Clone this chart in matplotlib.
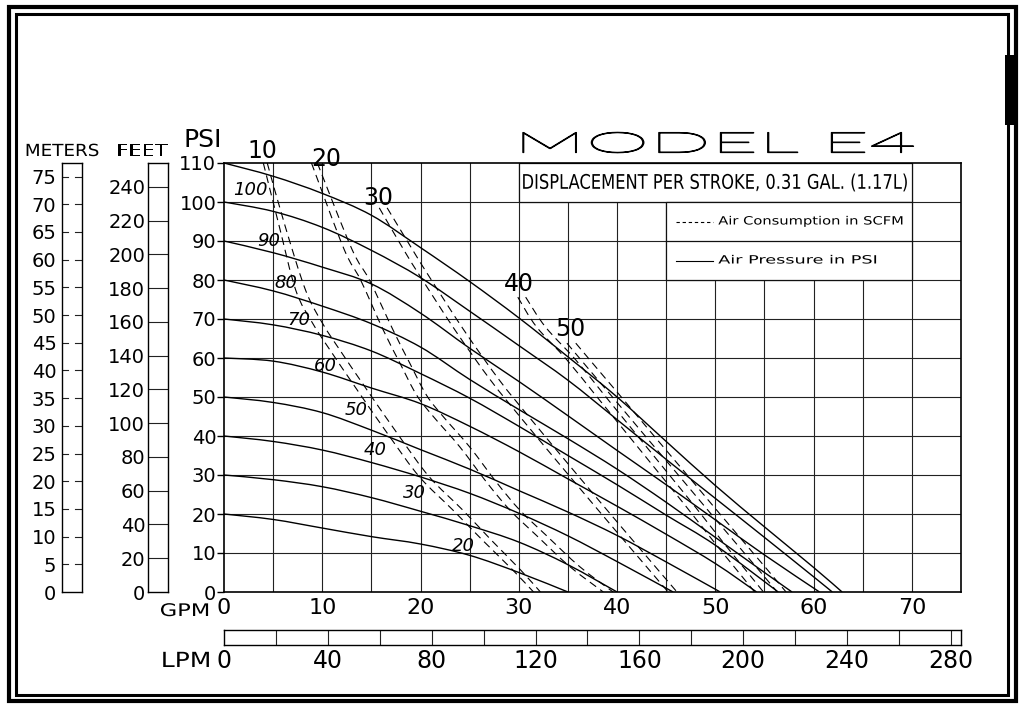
import numpy as np
import matplotlib
matplotlib.use("Agg")
import matplotlib.pyplot as plt
import matplotlib.patheffects as pe
from matplotlib.patches import Rectangle, PathPatch
from matplotlib.path import Path
from matplotlib.transforms import Affine2D

# ---------------- data ----------------
psi_ticks = list(range(0, 111, 10))
gpm_ticks = list(range(0, 71, 10))
lpm_ticks = list(range(0, 281, 40))
meter_ticks = list(range(0, 76, 5))
feet_ticks = list(range(0, 241, 20))

# Air pressure curves (discharge PSI vs GPM)
p110_gpm = [0, 5, 10, 15, 20, 25, 30, 35, 40, 45, 50, 55, 60, 62.9]
p110_psi = [110, 106.6, 102.2, 96.6, 88.3, 79.6, 70.3, 60.3, 50, 38.6, 27.3, 16.7, 6.3, 0]
p100_gpm = [0, 5, 10, 15, 20, 25, 30, 35, 40, 45, 50, 55, 60, 61.9]
p100_psi = [100, 97.6, 93.5, 87.6, 80.6, 72, 63.2, 54.3, 44.2, 34, 24, 14, 3.9, 0]
p90_gpm = [0, 5, 10, 15, 20, 25, 30, 35, 40, 45, 50, 55, 60.6]
p90_psi = [90, 87, 83.3, 79, 71.5, 62.5, 54, 45.2, 36.3, 27.5, 18.5, 9.5, 0]
p80_gpm = [0, 5, 10, 15, 20, 25, 30, 35, 40, 45, 50, 55, 57.8]
p80_psi = [80, 77.2, 73.3, 68.8, 62.8, 54.5, 46.8, 39.3, 31.5, 23, 14, 5, 0]
p70_gpm = [0, 5, 10, 15, 20, 25, 30, 35, 40, 45, 50, 56.4]
p70_psi = [70, 68.5, 65.8, 61.8, 56, 49.7, 42.5, 35, 27.5, 19.7, 12, 0]
p60_gpm = [0, 5, 10, 15, 20, 25, 30, 35, 40, 45, 50, 54.2]
p60_psi = [60, 59.2, 56.4, 52.3, 48.3, 42.5, 36, 29, 22, 14.8, 7.3, 0]
p50_gpm = [0, 5, 10, 15, 20, 25, 30, 35, 40, 45, 50.5]
p50_psi = [50, 48.6, 46, 41.5, 36.5, 31.5, 26, 20.5, 14.5, 7.7, 0]
p40_gpm = [0, 5, 10, 15, 20, 25, 30, 35, 40, 45.7]
p40_psi = [40, 38.6, 36.4, 33.2, 29.5, 25.3, 20.2, 14.4, 7.8, 0]
p30_gpm = [0, 5, 10, 15, 20, 25, 30, 35, 40]
p30_psi = [30, 28.8, 27, 24.2, 20.7, 17, 12.8, 7, 0]
p20_gpm = [0, 5, 10, 15, 20, 25, 30, 35]
p20_psi = [20, 18.6, 16.4, 14.2, 12.3, 9.4, 5, 0]

pressure_curves = [(p110_gpm, p110_psi), (p100_gpm, p100_psi), (p90_gpm, p90_psi),
                   (p80_gpm, p80_psi), (p70_gpm, p70_psi), (p60_gpm, p60_psi),
                   (p50_gpm, p50_psi), (p40_gpm, p40_psi), (p30_gpm, p30_psi),
                   (p20_gpm, p20_psi)]

pressure_label_text = ["100", "90", "80", "70", "60", "50", "40", "30", "20"]
pressure_label_gpm = [2.7, 4.5, 6.3, 7.6, 10.3, 13.4, 15.4, 19.4, 24.4]
pressure_label_psi = [103.0, 90.0, 79.2, 69.7, 58.0, 46.6, 36.4, 25.5, 11.8]

# Air consumption curves (SCFM); each one appears as a doubled dashed line
s10a_gpm = [4.0, 5.6, 7.3, 9.0, 10.8, 13.5, 16.9, 19.9, 23.3, 26.3, 29.4, 31.5]
s10a_psi = [110, 94, 77.4, 69, 62, 52, 39.7, 29.5, 21, 13.3, 5.6, 0]
s10b_gpm = [4.4, 6.2, 8.3, 10.0, 11.8, 14.5, 17.9, 20.9, 24.3, 27.2, 30.2, 32.2]
s10b_psi = [110, 94, 77.4, 69, 62, 52, 39.7, 29.5, 21, 13.3, 5.6, 0]
s20a_gpm = [8.9, 12.2, 13.9, 16.2, 17.9, 19.6, 21.3, 24.0, 26.8, 29.1, 31.8, 35.2, 38.6]
s20a_psi = [110, 88, 80, 67.2, 58.7, 50.5, 45.0, 37.2, 27.9, 21, 14.5, 6.5, 0]
s20b_gpm = [9.5, 13.0, 14.8, 17.2, 18.9, 20.6, 22.3, 25.0, 27.8, 30.1, 32.8, 36.2, 39.6]
s20b_psi = [110, 88, 80, 67.2, 58.7, 50.5, 45.0, 37.2, 27.9, 21, 14.5, 6.5, 0]
s30a_gpm = [15.8, 18.3, 20.0, 23.5, 27.1, 30.4, 34.9, 39.8, 45.2]
s30a_psi = [98.5, 87.7, 80.8, 67.2, 54.4, 44.1, 30.5, 15.9, 0]
s30b_gpm = [16.6, 19.2, 20.9, 24.4, 28.0, 31.3, 35.8, 40.7, 46.1]
s30b_psi = [98.5, 87.7, 80.8, 67.2, 54.4, 44.1, 30.5, 15.9, 0]
s40a_gpm = [29.9, 31.8, 34.9, 37.9, 41.0, 44.0, 47.0, 50.0, 52.0, 54.0]
s40a_psi = [75.6, 68, 59.5, 50.2, 40.6, 31.3, 22, 12.4, 6.2, 0]
s40b_gpm = [30.7, 32.7, 35.8, 38.8, 41.9, 44.9, 47.9, 50.9, 52.9, 54.9]
s40b_psi = [75.6, 68, 59.5, 50.2, 40.6, 31.3, 22, 12.4, 6.2, 0]
s50a_gpm = [34.9, 37.0, 40.0, 43.0, 46.0, 49.0, 52.0, 54.5, 56.3]
s50a_psi = [63.8, 57.5, 48.6, 39.6, 30.7, 21.7, 12.8, 5.4, 0]
s50b_gpm = [35.8, 37.9, 40.9, 43.9, 46.9, 49.9, 52.9, 55.4, 57.2]
s50b_psi = [63.8, 57.5, 48.6, 39.6, 30.7, 21.7, 12.8, 5.4, 0]

scfm_curves = [(s10a_gpm, s10a_psi), (s10b_gpm, s10b_psi), (s20a_gpm, s20a_psi),
               (s20b_gpm, s20b_psi), (s30a_gpm, s30a_psi), (s30b_gpm, s30b_psi),
               (s40a_gpm, s40a_psi), (s40b_gpm, s40b_psi), (s50a_gpm, s50a_psi),
               (s50b_gpm, s50b_psi)]

scfm_label_text = ["10", "20", "30", "40", "50"]
scfm_label_gpm = [3.9, 10.4, 15.7, 30.0, 35.2]
scfm_label_psi = [113.0, 111.0, 101.0, 79.0, 67.5]

PSI_TO_FT = 2.31
FT_TO_M = 0.3048
GPM_TO_LPM = 3.785
XMAX = 75
YMAX = 110


# ---------------- helpers ----------------
class HStretch(pe.AbstractPathEffect):
    """Draw text glyphs stretched horizontally (the text stays a Text object)."""

    def __init__(self, sx, anchor="center", stroke=0.0):
        super().__init__()
        self.sx = sx
        self.anchor = anchor
        self.stroke = stroke

    def draw_path(self, renderer, gc, tpath, affine, rgbFace=None):
        ext = tpath.get_extents(affine)
        if self.anchor == "left":
            cx = ext.x0
        elif self.anchor == "right":
            cx = ext.x1
        else:
            cx = 0.5 * (ext.x0 + ext.x1)
        a = affine + Affine2D().translate(-cx, 0).scale(self.sx, 1).translate(cx, 0)
        if self.stroke > 0:
            gc0 = renderer.new_gc()
            gc0.copy_properties(gc)
            gc0.set_linewidth(self.stroke)
            gc0.set_foreground(rgbFace if rgbFace is not None else "black")
            renderer.draw_path(gc0, tpath, a, rgbFace)
            gc0.restore()
        else:
            renderer.draw_path(gc, tpath, a, rgbFace)


def smooth_path(xs, ys):
    pts = np.column_stack([xs, ys]).astype(float)
    n = len(pts)
    verts = [pts[0]]
    codes = [Path.MOVETO]
    for i in range(n - 1):
        p0 = pts[i - 1] if i > 0 else pts[i]
        p1 = pts[i]
        p2 = pts[i + 1]
        p3 = pts[i + 2] if i + 2 < n else pts[i + 1]
        verts += [p1 + (p2 - p0) / 6.0, p2 - (p3 - p1) / 6.0, p2]
        codes += [Path.CURVE4] * 3
    return Path(verts, codes)


# ---------------- figure ----------------
W, H = 1024, 706
fig = plt.figure(figsize=(W / 100, H / 100), dpi=100)
fig.patch.set_facecolor("white")


def fx(px):
    return px / W


def fy(py):
    return (H - py) / H


ax_left, ax_right, ax_top, ax_bot = 224, 961, 163, 592
ax = fig.add_axes([fx(ax_left), fy(ax_bot), fx(ax_right - ax_left), (ax_bot - ax_top) / H])
ax.set_xlim(0, XMAX)
ax.set_ylim(0, YMAX)

grid_kw = dict(color="#222222", lw=0.8, zorder=1)
for gx in range(5, XMAX, 5):
    ax.plot([gx, gx], [0, YMAX], **grid_kw)
for gy in range(10, YMAX, 10):
    ax.plot([0, XMAX], [gy, gy], **grid_kw)

# title box and legend box over the grid
ax.add_patch(Rectangle((30, 100), 40, 10, facecolor="white", edgecolor="#111111", lw=0.9, zorder=2))
ax.add_patch(Rectangle((45, 80), 25, 20, facecolor="white", edgecolor="#111111", lw=0.9, zorder=2))
ax.plot([45, 70], [90, 90], color="#111111", lw=0.9, zorder=3)

ax.text(50, 104.8, "DISPLACEMENT PER STROKE, 0.31 GAL. (1.17L)", ha="center", va="center",
        fontsize=14.5, family="Liberation Sans Narrow", zorder=4,
        path_effects=[HStretch(0.81, "center")])

ax.plot([46.0, 49.8], [95, 95], color="black", lw=0.8, ls=(0, (3, 2.5)), zorder=4)
ax.text(50.3, 95, "Air Consumption in SCFM", ha="left", va="center", fontsize=8.2, zorder=4,
        path_effects=[HStretch(1.29, "left")])
ax.plot([46.0, 49.8], [85, 85], color="black", lw=0.8, zorder=4)
ax.text(50.3, 85, "Air Pressure in PSI", ha="left", va="center", fontsize=8.2, zorder=4,
        path_effects=[HStretch(1.55, "left")])

for g, p in pressure_curves:
    ax.add_patch(PathPatch(smooth_path(g, p), fill=False, edgecolor="black", lw=1.0, zorder=3))

for g, p in scfm_curves:
    ax.add_patch(PathPatch(smooth_path(g, p), fill=False, edgecolor="black", lw=0.8,
                           ls=(0, (7, 4.5)), zorder=3))

for t, g, p in zip(pressure_label_text, pressure_label_gpm, pressure_label_psi):
    ax.text(g, p, t, ha="center", va="center", fontsize=13, style="italic", zorder=5)

for t, g, p in zip(scfm_label_text, scfm_label_gpm, scfm_label_psi):
    ax.text(g, p, t, ha="center", va="center", fontsize=17, zorder=5, clip_on=False)

for s in ax.spines.values():
    s.set_linewidth(1.2)
    s.set_zorder(6)
ax.set_xticks(gpm_ticks)
ax.set_xticklabels([str(v) for v in gpm_ticks], fontsize=16)
ax.set_yticks(psi_ticks)
ax.set_yticklabels([str(v) for v in psi_ticks], fontsize=14)
ax.tick_params(axis="x", length=0, pad=4)
ax.tick_params(axis="y", length=5, width=1.0, pad=0.5)

fig.text(fx(203), fy(140), "PSI", ha="center", va="center", fontsize=18)
fig.text(fx(185), fy(611), "GPM", ha="center", va="center", fontsize=12.5,
         path_effects=[HStretch(1.3, "center")])
fig.text(fx(717), fy(145), "MODEL E4", ha="center", va="center", fontsize=20.5,
         family="Lato", fontweight="light", path_effects=[HStretch(2.85, "center", stroke=0.9)])

# ---------- LPM bar ----------
lpm = fig.add_axes([fx(224), fy(645), fx(961 - 224), 15 / H])
lpm.set_xlim(0, XMAX * GPM_TO_LPM)
lpm.set_ylim(0, 1)
for v in range(20, 281, 20):
    lpm.plot([v, v], [0, 1], color="#222222", lw=0.8)
lpm.set_yticks([])
lpm.set_xticks(lpm_ticks)
lpm.set_xticklabels([str(v) for v in lpm_ticks], fontsize=17)
lpm.tick_params(axis="x", length=0, pad=3)
for s in lpm.spines.values():
    s.set_linewidth(1.0)
fig.text(fx(186), fy(661), "LPM", ha="center", va="center", fontsize=15,
         path_effects=[HStretch(1.2, "center")])

# ---------- Meters & Feet columns ----------
mt = fig.add_axes([fx(62), fy(ax_bot), fx(20), (ax_bot - ax_top) / H])
mt.set_xlim(0, 1)
mt.set_ylim(0, YMAX * PSI_TO_FT * FT_TO_M)
for v in meter_ticks[1:]:
    mt.plot([0, 0.3], [v, v], color="#222222", lw=0.8)
    mt.plot([0.65, 0.95], [v, v], color="#222222", lw=0.8)
mt.set_xticks([])
mt.set_yticks(meter_ticks)
mt.set_yticklabels([str(v) for v in meter_ticks], fontsize=14)
mt.tick_params(axis="y", length=0, pad=4)
for s in mt.spines.values():
    s.set_linewidth(1.0)

ft = fig.add_axes([fx(148), fy(ax_bot), fx(20), (ax_bot - ax_top) / H])
ft.set_xlim(0, 1)
ft.set_ylim(0, YMAX * PSI_TO_FT)
for v in feet_ticks[1:]:
    ft.plot([0, 1], [v, v], color="#222222", lw=0.8)
ft.set_xticks([])
ft.set_yticks(feet_ticks)
ft.set_yticklabels([str(v) for v in feet_ticks], fontsize=14)
ft.tick_params(axis="y", length=0, pad=2)
for s in ft.spines.values():
    s.set_linewidth(1.0)

fig.text(fx(62), fy(151), "METERS", ha="center", va="center", fontsize=12,
         path_effects=[HStretch(1.1, "center")])
fig.text(fx(142), fy(151), "FEET", ha="center", va="center", fontsize=12,
         path_effects=[HStretch(1.25, "center")])

# ---------- page border ----------
bord = fig.add_axes([0, 0, 1, 1], zorder=-1)
bord.set_xlim(0, W)
bord.set_ylim(H, 0)
bord.axis("off")
bord.add_patch(Rectangle((9, 6.5), 1016 - 9, 701 - 6.5, fill=False, lw=3.0, edgecolor="black"))
bord.add_patch(Rectangle((15.5, 13.5), 1008 - 15.5, 695 - 13.5, fill=False, lw=2.2, edgecolor="black"))
bord.add_patch(Rectangle((1005, 55), 13, 70, facecolor="black", edgecolor="none"))

fig.savefig("out.png", dpi=100, facecolor="white")
